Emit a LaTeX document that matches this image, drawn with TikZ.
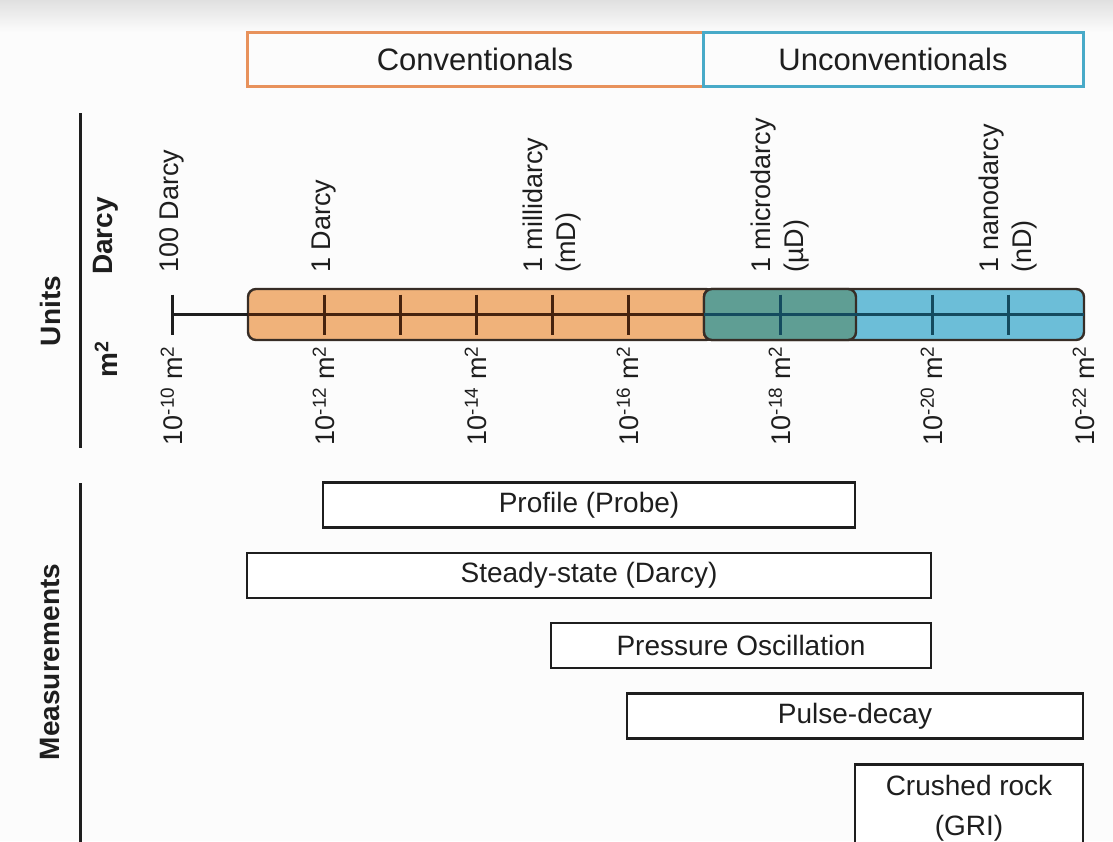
\documentclass[tikz,border=0pt]{standalone}
\usepackage{fontspec}
\setmainfont{Liberation Sans}
\usetikzlibrary{calc}
\definecolor{bgc}{RGB}{252,252,252}
\definecolor{convC}{RGB}{232,146,92}
\definecolor{unconvC}{RGB}{72,170,200}
\definecolor{orangefill}{RGB}{240,178,122}
\definecolor{tealfill}{RGB}{95,158,148}
\definecolor{bluefill}{RGB}{108,190,216}
\definecolor{barline}{RGB}{55,45,38}
\definecolor{tickO}{RGB}{70,35,15}
\definecolor{tickB}{RGB}{20,75,95}
\definecolor{ink}{RGB}{30,30,30}
\begin{document}
\begin{tikzpicture}[x=1pt,y=-1pt,
  header/.style={draw, line width=3pt, minimum height=54pt, inner sep=0pt,
    font=\fontsize{31}{37}\selectfont, text=ink},
  segment/.style={draw=barline, line width=2.4pt, rounded corners=8pt, minimum height=51pt, inner sep=0pt},
  toplab/.style={rotate=90, anchor=west, align=left, inner sep=0pt,
    font=\fontsize{27}{33}\selectfont, text=ink},
  botlab/.style={rotate=90, anchor=east, inner sep=0pt,
    font=\fontsize{27}{33}\selectfont, text=ink},
  sidelab/.style={rotate=90, inner sep=0pt, font=\bfseries\fontsize{28}{33}\selectfont, text=ink},
  sepline/.style={draw=ink, line width=3pt},
  mbox/.style={draw=ink, line width=2.6pt, minimum height=45pt, inner sep=0pt,
    font=\fontsize{28}{40}\selectfont, text=ink, fill=white},
  tickline/.style={line width=3pt}
]
\useasboundingbox (0,0) rectangle (1113,841);
\clip (0,0) rectangle (1113,841);
\fill[bgc] (0,0) rectangle (1113,841);
\shade[top color=black!12, bottom color=bgc] (0,0) rectangle (1113,32);

% header
\node[header, draw=convC, minimum width=456pt] (conv) at (475,59) {Conventionals};
\node[header, draw=unconvC, minimum width=380pt] (unconv) at (893,59) {Unconventionals};

% decade coordinates
\foreach \n/\x in {10/172,11/248,12/324,13/400,14/476,15/552,16/628,17/704,18/780,19/856,20/932,21/1008,22/1084}
  \coordinate (e\n) at (\x,314.5);

% bar segments
\node[segment, fill=orangefill, minimum width=466pt] (sego) at (481,314.5) {};
\node[segment, fill=bluefill, minimum width=380pt] (segb) at (894,314.5) {};
\node[segment, fill=tealfill, minimum width=152pt] (segt) at (780,314.5) {};

% axis line
\draw[draw=ink, line width=2.8pt] (e10) -- (e11);
\draw[draw=tickO, line width=2.8pt] (e11) -- (e17);
\draw[draw=tickB, line width=2.8pt] (e17) -- (e22);
\draw[tickline, draw=ink] ($(e10)+(0,-20)$) -- ($(e10)+(0,20)$);
\foreach \n in {12,13,14,15,16}
  \draw[tickline, draw=tickO] ($(e\n)+(0,-20)$) -- ($(e\n)+(0,20)$);
\foreach \n in {18,20,21}
  \draw[tickline, draw=tickB] ($(e\n)+(0,-20)$) -- ($(e\n)+(0,20)$);

% labels above the bar
\node[toplab] (l100) at (172,273) {100 Darcy};
\node[toplab] (l1) at (324,273) {1 Darcy};
\node[toplab] (lmd) at (552,273) {1 millidarcy\\(mD)};
\node[toplab] (lud) at (780,273) {1 microdarcy\\(µD)};
\node[toplab] (lnd) at (1008,273) {1 nanodarcy\\(nD)};

% labels below the bar
\foreach \n/\x in {10/172,12/324,14/476,16/628,18/780,20/932,22/1084}
  \node[botlab] (m\n) at (\x,346) {10\textsuperscript{-\n} m\textsuperscript{2}};

% side labels
\node[sidelab] (units) at (50,311) {Units};
\node[sidelab, anchor=west] (darcy) at (106,275) {Darcy};
\node[sidelab, anchor=east] (msq) at (106,341) {m\textsuperscript{2}};
\coordinate (u1) at (80,113);
\coordinate (u2) at (80,448);
\draw[sepline] (u1) -- (u2);
\node[sidelab] (meas) at (50,662) {Measurements};
\coordinate (v1) at (80,483);
\coordinate (v2) at (80,850);
\draw[sepline] (v1) -- (v2);

% measurement boxes
\node[mbox, minimum width=532pt] (profile) at (589,505) {Profile (Probe)};
\node[mbox, minimum width=684pt] (steady) at (589,575.5) {Steady-state (Darcy)};
\node[mbox, minimum width=380pt] (press) at (741,645.5) {Pressure Oscillation};
\node[mbox, minimum width=456pt] (pulse) at (855,716) {Pulse-decay};
\node[mbox, minimum width=228pt, minimum height=88pt, align=center, anchor=north] (crushed) at (969,763) {Crushed rock\\(GRI)};
\end{tikzpicture}
\end{document}
